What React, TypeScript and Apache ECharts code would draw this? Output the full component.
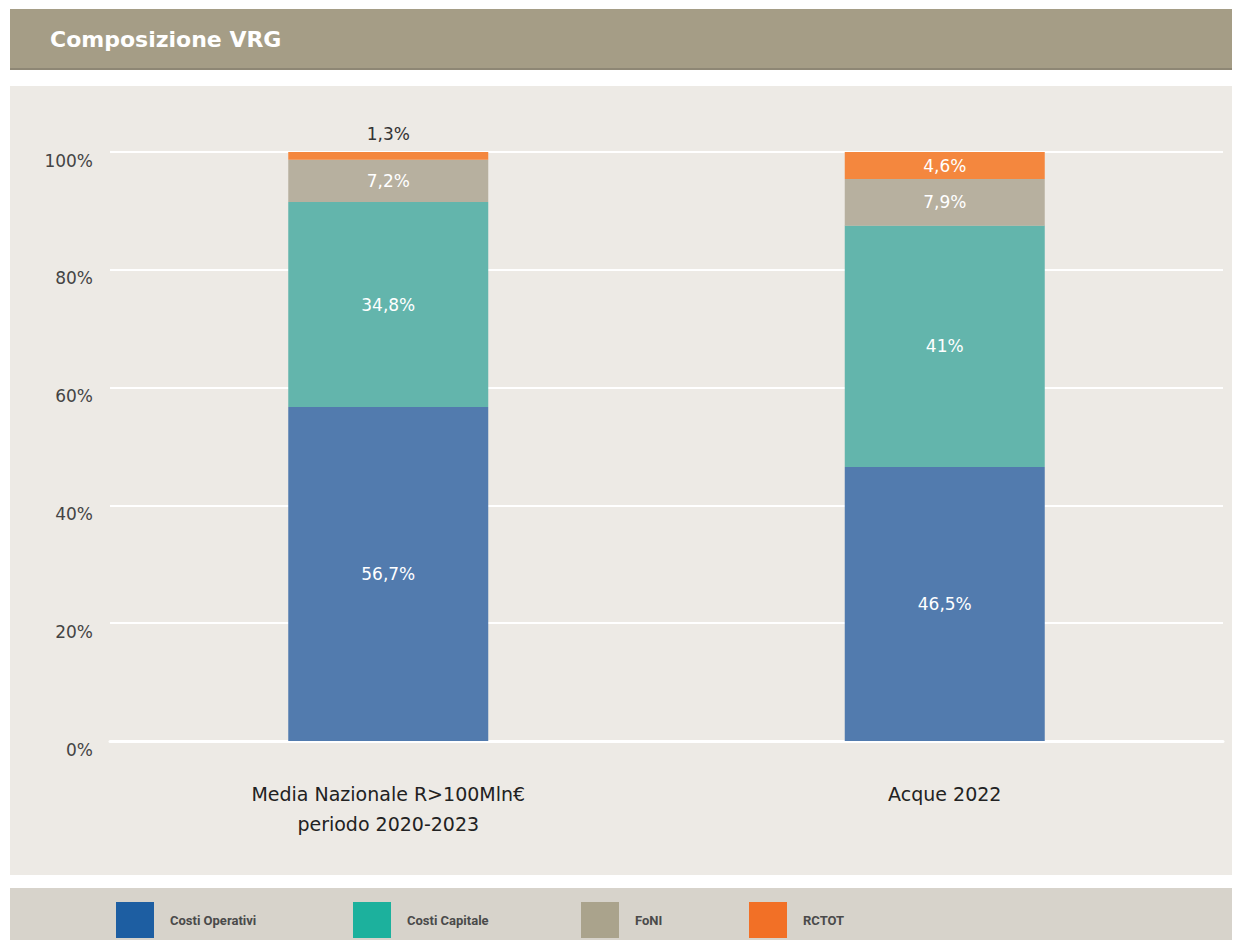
import React, { useEffect, useRef } from "react";
import * as echarts from "echarts";

const categories = ["Media Nazionale R>100Mln€\nperiodo 2020-2023", "Acque 2022"];
const costiOperativi = [56.7, 46.5];
const costiCapitale = [34.8, 41];
const foni = [7.2, 7.9];
const rctot = [1.3, 4.6];
const yTicks = [0, 20, 40, 60, 80, 100];
const seriesNames = ["Costi Operativi", "Costi Capitale", "FoNI", "RCTOT"];
const barColors = ["#527bae", "#63b5ac", "#b7b09f", "#f4873e"];
const legendColors = ["#1d5ea2", "#1cb19d", "#aaa38c", "#f27026"];
const legendLeft = [116, 353, 581, 749];

const fmt = (v: number) => String(v).replace(".", ",") + "%";

export default function App() {
  const ref = useRef<HTMLDivElement>(null);
  useEffect(() => {
    document.body.style.margin = "0";
    const chart = echarts.init(ref.current!, null, { renderer: "svg" });
    const dataSets = [costiOperativi, costiCapitale, foni, rctot];
    const series = dataSets.map((d, i) => ({
      name: seriesNames[i],
      type: "bar",
      stack: "vrg",
      barWidth: 200,
      data: d.map((v, j) => {
        const outside = i === 3 && j === 0;
        return {
          value: v,
          label: outside
            ? { show: true, position: "top", color: "#333", distance: 10 }
            : undefined,
        };
      }),
      itemStyle: { color: barColors[i] },
      label: {
        show: true,
        position: "inside",
        color: "#ffffff",
        fontSize: 17,
        fontFamily: "DejaVu Sans",
        formatter: (p: any) => fmt(p.value),
      },
    }));
    chart.setOption({
      animation: false,
      backgroundColor: "#ffffff",
      graphic: [
        { type: "rect", shape: { x: 10, y: 9, width: 1222, height: 59 }, style: { fill: "#a59d86" }, z: -10 },
        { type: "rect", shape: { x: 10, y: 68, width: 1222, height: 2 }, style: { fill: "#8e8775" }, z: -10 },
        { type: "rect", shape: { x: 10, y: 86, width: 1222, height: 789 }, style: { fill: "#edeae5" }, z: -10 },
        { type: "rect", shape: { x: 10, y: 888, width: 1222, height: 52 }, style: { fill: "#d7d3cb" }, z: -10 },
        {
          type: "text",
          x: 50,
          y: 39,
          style: {
            text: "Composizione VRG",
            fill: "#ffffff",
            font: "bold 22px 'DejaVu Sans'",
            verticalAlign: "middle",
          },
        },
      ],
      legend: seriesNames.map((n, i) => ({
        left: legendLeft[i],
        top: 902,
        padding: 0,
        itemWidth: 38,
        itemHeight: 36,
        icon: "rect",
        textStyle: { color: "#4a4a4a", fontSize: 13, fontWeight: "bold", fontFamily: "Roboto", padding: [0, 0, 0, 11] },
        data: [{ name: n, itemStyle: { color: legendColors[i] } }],
      })),
      grid: { left: 110, right: 14, top: 152, bottom: 199 },
      xAxis: {
        type: "category",
        data: categories,
        axisLine: { show: true, lineStyle: { color: "#ffffff", width: 3 } },
        axisTick: { show: false },
        axisLabel: {
          color: "#222",
          fontSize: 19,
          fontFamily: "DejaVu Sans",
          lineHeight: 30,
          margin: 38,
        },
      },
      yAxis: {
        type: "value",
        min: 0,
        max: 100,
        interval: 20,
        axisLine: { show: false },
        axisTick: { show: false },
        splitLine: { lineStyle: { color: "#ffffff", width: 2 } },
        axisLabel: {
          color: "#444",
          fontSize: 17,
          fontFamily: "DejaVu Sans",
          margin: 17,
          verticalAlign: "top",
          formatter: (v: number) => (yTicks.includes(v) ? v + "%" : ""),
        },
      },
      series,
    });
    return () => chart.dispose();
  }, []);
  return <div ref={ref} style={{ width: 1237, height: 940 }} />;
}
